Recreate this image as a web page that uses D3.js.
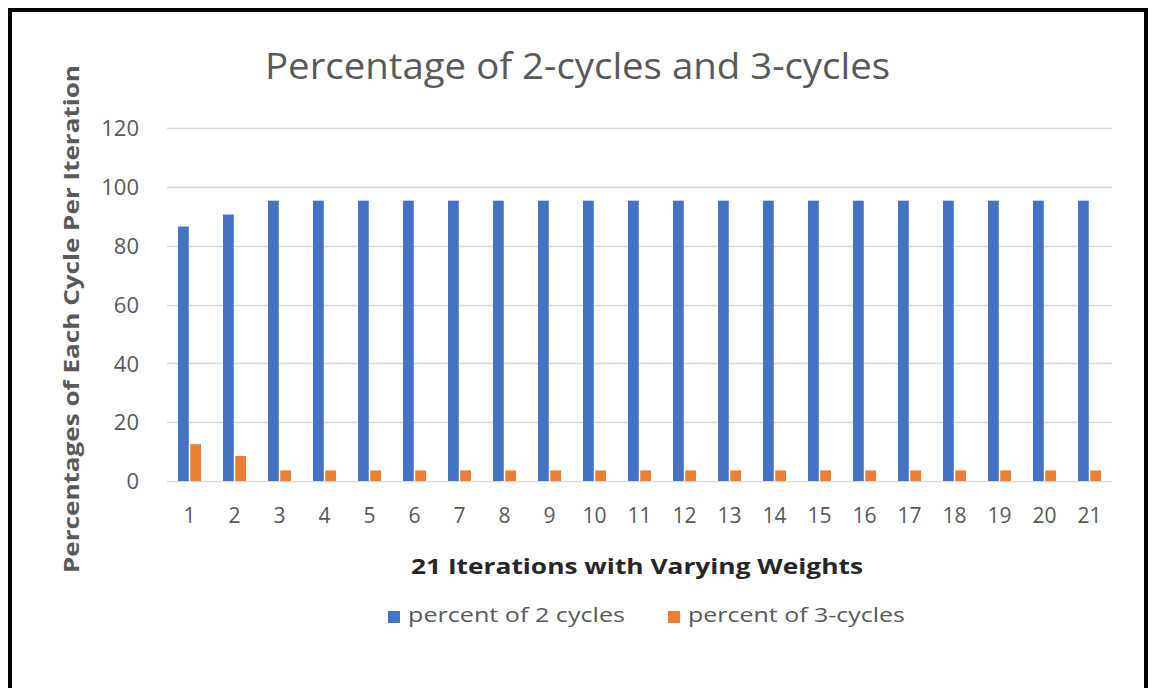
<!DOCTYPE html>
<html>
<head>
<meta charset="utf-8">
<script src="https://cdn.jsdelivr.net/npm/d3@7"></script>
<style>
  html, body { margin: 0; padding: 0; background: #fff; }
  svg { display: block; }
  text { font-family: "Open Sans", "Noto Sans", sans-serif; fill: #595959; }
</style>
</head>
<body>
<div id="chart"></div>
<script>
//----- DATA ---------------------------------------//
var iterations = d3.range(1, 22).map(String);
var seriesNames = ['percent of 2 cycles', 'percent of 3-cycles'];
var twoCycles = [86.5, 90.6, 95.3, 95.3, 95.3, 95.3, 95.3, 95.3, 95.3, 95.3, 95.3,
                 95.3, 95.3, 95.3, 95.3, 95.3, 95.3, 95.3, 95.3, 95.3, 95.3];
var threeCycles = [12.5, 8.5, 3.6, 3.6, 3.6, 3.6, 3.6, 3.6, 3.6, 3.6, 3.6,
                   3.6, 3.6, 3.6, 3.6, 3.6, 3.6, 3.6, 3.6, 3.6, 3.6];
var yTicks = [0, 20, 40, 60, 80, 100, 120];
var COLORS = ['#4472c4', '#ed7d31'];

//----- SETTINGS -----------------------------------//
var WIDTH = 1154,
    HEIGHT = 688,
    PLOT = { left: 167, right: 1112, top: 128, bottom: 481 };

var svg = d3.select('#chart').append('svg')
    .attr('width', WIDTH)
    .attr('height', HEIGHT);

// frame round the chart (bottom edge is cut off in the picture)
svg.append('path')
    .attr('d', 'M10,700 L10,10 L1146,10 L1146,700')
    .attr('fill', 'none')
    .attr('stroke', '#000')
    .attr('stroke-width', 4);

//----- SCALES -------------------------------------//
var x0 = d3.scaleBand().domain(iterations)
    .range([PLOT.left, PLOT.right])
    .paddingInner(0.49).paddingOuter(0.245);
var x1 = d3.scaleBand().domain(seriesNames)
    .range([0, x0.bandwidth()])
    .paddingInner(0.12);
var y = d3.scaleLinear().domain([0, 120]).range([PLOT.bottom, PLOT.top]);

//----- GRID ---------------------------------------//
svg.append('g')
    .selectAll('line')
    .data(yTicks).enter()
    .append('line')
        .attr('x1', PLOT.left)
        .attr('x2', PLOT.right)
        .attr('y1', function (d) { return Math.round(y(d)) + 0.5; })
        .attr('y2', function (d) { return Math.round(y(d)) + 0.5; })
        .attr('stroke', '#d9d9d9')
        .attr('stroke-width', 1.5);

//----- Y AXIS -------------------------------------//
var yAxis = svg.append('g')
    .attr('transform', 'translate(' + (PLOT.left - 28) + ',0)')
    .call(d3.axisLeft(y).tickValues(yTicks).tickSize(0).tickPadding(0));
yAxis.select('.domain').remove();
yAxis.selectAll('text')
    .attr('font-size', 22)
    .style('font-family', '"Open Sans", sans-serif')
    .attr('fill', '#595959')
    .attr('dy', '0.35em');

//----- X AXIS -------------------------------------//
var xAxis = svg.append('g')
    .attr('transform', 'translate(0,' + PLOT.bottom + ')')
    .call(d3.axisBottom(x0).tickSize(0).tickPadding(27));
xAxis.select('.domain').remove();
xAxis.selectAll('text')
    .attr('font-size', 21)
    .style('font-family', '"Open Sans", sans-serif')
    .attr('fill', '#595959');

//----- BARS ---------------------------------------//
var data = iterations.map(function (it, i) {
    return { key: it, values: [twoCycles[i], threeCycles[i]] };
});

var groups = svg.append('g')
    .selectAll('g')
    .data(data).enter()
    .append('g')
        .attr('transform', function (d) { return 'translate(' + x0(d.key) + ',0)'; });

groups.selectAll('rect')
    .data(function (d) {
        return d.values.map(function (v, i) { return { name: seriesNames[i], value: v, index: i }; });
    }).enter()
    .append('rect')
        .attr('x', function (d) { return x1(d.name); })
        .attr('width', x1.bandwidth())
        .attr('y', function (d) { return y(d.value); })
        .attr('height', function (d) { return y(0) - y(d.value); })
        .attr('fill', function (d) { return COLORS[d.index]; });

//----- TITLES -------------------------------------//
svg.append('text')
    .attr('x', 265)
    .attr('y', 79)
    .attr('font-size', 36)
    .attr('textLength', 625)
    .attr('lengthAdjust', 'spacingAndGlyphs')
    .text('Percentage of 2-cycles and 3-cycles');

svg.append('text')
    .attr('transform', 'translate(79,573) rotate(-90)')
    .attr('font-size', 22)
    .attr('font-weight', 'bold')
    .attr('textLength', 508)
    .attr('lengthAdjust', 'spacingAndGlyphs')
    .text('Percentages of Each Cycle Per Iteration');

svg.append('text')
    .attr('x', 411)
    .attr('y', 574)
    .attr('font-size', 22)
    .attr('font-weight', 'bold')
    .attr('fill', '#262626')
    .style('fill', '#262626')
    .attr('textLength', 452)
    .attr('lengthAdjust', 'spacingAndGlyphs')
    .text('21 Iterations with Varying Weights');

//----- LEGEND -------------------------------------//
var legendX = [388, 668];
var legend = svg.append('g')
    .selectAll('g')
    .data(seriesNames).enter()
    .append('g')
        .attr('transform', function (d, i) { return 'translate(' + legendX[i] + ',611)'; });

legend.append('rect')
    .attr('width', 12)
    .attr('height', 12)
    .attr('fill', function (d, i) { return COLORS[i]; });

legend.append('text')
    .attr('x', 20)
    .attr('y', 11)
    .attr('font-size', 20)
    .attr('textLength', 217)
    .attr('lengthAdjust', 'spacingAndGlyphs')
    .text(function (d) { return d; });
</script>
</body>
</html>
